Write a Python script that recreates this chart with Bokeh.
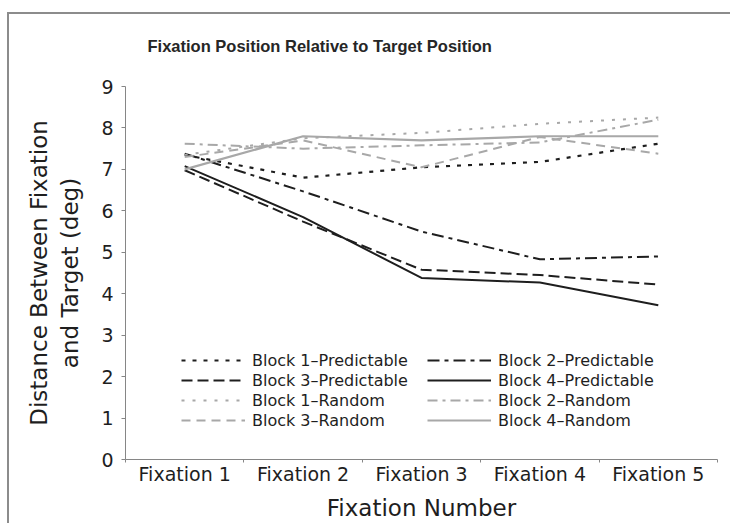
from bokeh.plotting import figure
from bokeh.models import FixedTicker, Legend, LegendItem, InlineStyleSheet
from bokeh.embed import file_html
from bokeh.resources import INLINE

# ---- data ----
fixations = ["Fixation 1", "Fixation 2", "Fixation 3", "Fixation 4", "Fixation 5"]
y_ticks = [0, 1, 2, 3, 4, 5, 6, 7, 8, 9]

block1_predictable = [7.35, 6.80, 7.05, 7.18, 7.62]
block2_predictable = [7.38, 6.47, 5.50, 4.83, 4.90]
block3_predictable = [6.98, 5.74, 4.58, 4.45, 4.22]
block4_predictable = [7.08, 5.85, 4.38, 4.27, 3.72]
block1_random = [7.35, 7.75, 7.88, 8.10, 8.25]
block2_random = [7.62, 7.50, 7.58, 7.65, 8.20]
block3_random = [7.30, 7.70, 7.05, 7.78, 7.38]
block4_random = [7.00, 7.80, 7.70, 7.80, 7.80]

series_names = ["Block 1\u2013Predictable", "Block 2\u2013Predictable",
                "Block 3\u2013Predictable", "Block 4\u2013Predictable",
                "Block 1\u2013Random", "Block 2\u2013Random",
                "Block 3\u2013Random", "Block 4\u2013Random"]
series_values = [block1_predictable, block2_predictable, block3_predictable, block4_predictable,
                 block1_random, block2_random, block3_random, block4_random]

# ---- styles ----
DARK = "#1e1e1e"
GRAY = "#a8a8a8"
styles = [
    (DARK, "4 7", 2.2),
    (DARK, "12 5 4 5", 2.0),
    (DARK, "11 5", 2.0),
    (DARK, "solid", 2.0),
    (GRAY, "3 8", 2.0),
    (GRAY, "10 5 3 5", 2.0),
    (GRAY, "9 6", 2.0),
    (GRAY, "solid", 2.2),
]

x_pos = list(range(1, len(fixations) + 1))
boundaries = [i + 0.5 for i in range(0, len(fixations) + 1)]

p = figure(width=730, height=523, output_backend="svg", toolbar_location=None,
           x_range=(0.5, len(fixations) + 0.5), y_range=(y_ticks[0], y_ticks[-1]),
           min_border_left=125, min_border_right=13, min_border_top=86, min_border_bottom=63)
p.outline_line_color = None
p.grid.visible = False
p.background_fill_color = "white"
p.border_fill_color = "white"
# chart-area frame: left and top edges, drawn as an overlay in the page margin area
p.stylesheets = [InlineStyleSheet(css="""
:host { position: relative; }
:host::after {
  content: "";
  position: absolute;
  left: 7px; top: 12px; right: 0px; bottom: 0px;
  border-left: 2px solid #8c8c8c;
  border-top: 2px solid #8c8c8c;
  pointer-events: none;
  z-index: 10;
}
""")]

p.title.text = "Fixation Position Relative to Target Position"
p.title.align = "left"
p.title.offset = 22
p.title.text_font = "Liberation Sans"
p.title.text_font_size = "16.5px"
p.title.text_font_style = "bold"
p.title.text_color = "#262626"
p.title.standoff = 64

renderers = []
for name, vals, (col, dash, lw) in zip(series_names, series_values, styles):
    r = p.line(x_pos, vals, line_color=col, line_dash=dash, line_width=lw)
    renderers.append(r)

items = [LegendItem(label=n, renderers=[r]) for n, r in zip(series_names, renderers)]
legend = Legend(items=items, location=(56, 29), orientation="horizontal", ncols=2,
                padding=0, margin=0, spacing=0, glyph_width=64, glyph_height=20,
                label_height=20, label_width=175, label_standoff=7,
                label_text_font="DejaVu Sans", label_text_font_size="16px",
                label_text_color="#1e1e1e", border_line_color=None,
                background_fill_alpha=0)
p.add_layout(legend)

# x axis
xa = p.xaxis[0]
xa.ticker = FixedTicker(ticks=x_pos, minor_ticks=boundaries)
xa.major_label_overrides = {x: f for x, f in zip(x_pos, fixations)}
xa.major_tick_out = 0
xa.major_tick_in = 0
xa.minor_tick_line_color = "#868686"
xa.minor_tick_out = 3
xa.minor_tick_in = 0
xa.major_label_standoff = 0
xa.axis_label = "Fixation Number"
xa.axis_label_standoff = 7

# y axis
ya = p.yaxis[0]
ya.ticker = FixedTicker(ticks=y_ticks)
ya.major_tick_out = 4
ya.major_tick_in = 0
ya.minor_tick_line_color = None
ya.major_label_standoff = 8
ya.axis_label = "Distance Between Fixation\nand Target (deg)"
ya.axis_label_standoff = 15

for ax in (xa, ya):
    ax.axis_line_color = "#868686"
    ax.major_tick_line_color = "#868686" if ax is ya else None
    ax.major_label_text_font = "DejaVu Sans"
    ax.major_label_text_font_size = "19px"
    ax.major_label_text_color = "#1e1e1e"
    ax.axis_label_text_font = "DejaVu Sans"
    ax.axis_label_text_font_size = "23px"
    ax.axis_label_text_font_style = "normal"
    ax.axis_label_text_color = "#1e1e1e"

open("out.html", "w").write(file_html(p, INLINE))
